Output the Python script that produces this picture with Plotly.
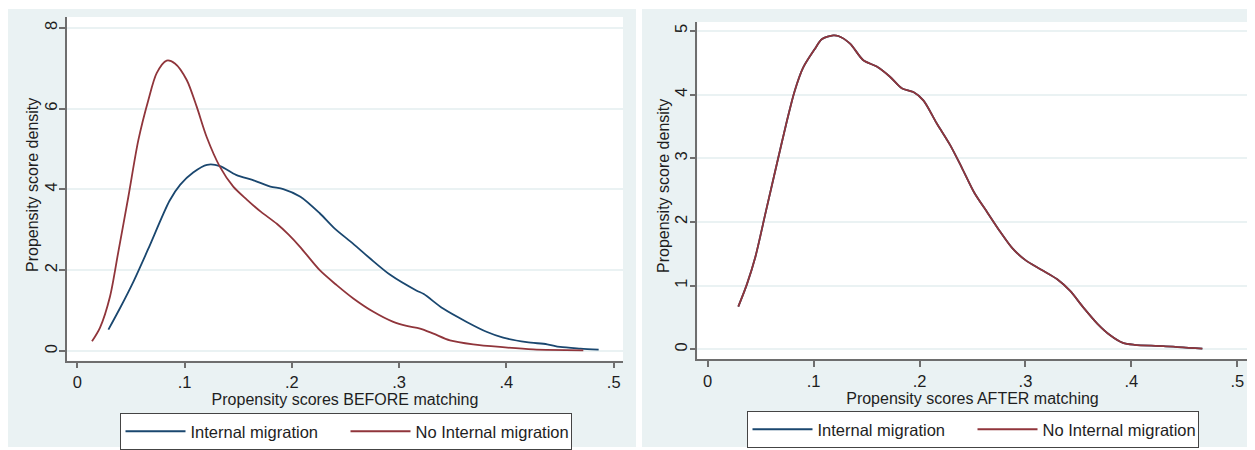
import plotly.graph_objects as go

# ---------------- data ----------------
before_internal_x = [0.029, 0.040, 0.052, 0.066, 0.086, 0.096, 0.108, 0.121, 0.133, 0.148,
                     0.165, 0.180, 0.192, 0.208, 0.226, 0.240, 0.257, 0.273, 0.292, 0.316,
                     0.323, 0.341, 0.363, 0.382, 0.397, 0.419, 0.438, 0.450, 0.469, 0.486]
before_internal_y = [0.53, 1.07, 1.70, 2.52, 3.72, 4.12, 4.42, 4.61, 4.58, 4.36,
                     4.22, 4.07, 4.01, 3.82, 3.41, 3.03, 2.66, 2.29, 1.88, 1.50,
                     1.41, 1.05, 0.72, 0.47, 0.33, 0.22, 0.166, 0.10, 0.06, 0.035]

before_none_x = [0.0137, 0.0212, 0.0305, 0.0382, 0.0476, 0.0569, 0.0662, 0.074, 0.0833, 0.091,
                 0.102, 0.1113, 0.1206, 0.133, 0.1454, 0.158, 0.171, 0.186, 0.197, 0.2076,
                 0.226, 0.2418, 0.2573, 0.276, 0.2946, 0.307, 0.3195, 0.332, 0.3474, 0.369,
                 0.394, 0.425, 0.4717]
before_none_y = [0.24, 0.58, 1.35, 2.45, 3.82, 5.22, 6.21, 6.88, 7.19, 7.12,
                 6.71, 6.05, 5.30, 4.56, 4.07, 3.75, 3.45, 3.15, 2.88, 2.58,
                 2.00, 1.63, 1.30, 0.97, 0.72, 0.62, 0.555, 0.43, 0.265, 0.166,
                 0.10, 0.04, 0.017]

after_x = [0.0289, 0.037, 0.045, 0.055, 0.065, 0.075, 0.082, 0.090, 0.1013, 0.1077,
           0.1186, 0.1233, 0.1344, 0.1469, 0.1596, 0.1721, 0.1832, 0.1942, 0.2036, 0.2162,
           0.2288, 0.240, 0.252, 0.264, 0.276, 0.288, 0.300, 0.315, 0.330, 0.342,
           0.355, 0.368, 0.380, 0.392, 0.403, 0.430, 0.467]
after_y = [0.67, 1.02, 1.45, 2.17, 2.89, 3.60, 4.05, 4.42, 4.72, 4.87,
           4.93, 4.92, 4.80, 4.54, 4.44, 4.28, 4.10, 4.04, 3.91, 3.55,
           3.21, 2.85, 2.45, 2.15, 1.85, 1.58, 1.40, 1.25, 1.10, 0.92,
           0.65, 0.40, 0.22, 0.10, 0.07, 0.05, 0.01]

series_names = ["Internal migration", "No Internal migration"]
x_ticks = [0, 0.1, 0.2, 0.3, 0.4, 0.5]
x_tick_text = ["0", ".1", ".2", ".3", ".4", ".5"]
left_y_ticks = [0, 2, 4, 6, 8]
right_y_ticks = [0, 1, 2, 3, 4, 5]
x_titles = ["Propensity scores BEFORE matching", "Propensity scores AFTER matching"]
y_title = "Propensity score density"

# ---------------- styling ----------------
# the page body adds an 8px margin, so the figure starts at (8, 8) on screen
OX, OY = 8, 8
W, H = 1247, 442
BLUE = "#1a476f"
RED = "#90353b"
REGION = "#eaf2f3"
AXIS = "#6e6e6e"
FONT = "Liberation Sans, Arial, sans-serif"
TXT = "#1e1e1e"

def px(x):
    return (x - OX) / W

def py(y):
    return 1 - (y - OY) / H

fig = go.Figure()

line_kw = dict(mode="lines", line_shape="spline", hoverinfo="skip")
fig.add_trace(go.Scatter(x=before_internal_x, y=before_internal_y, name=series_names[0],
                         line=dict(color=BLUE, width=1.8, smoothing=0.8),
                         xaxis="x", yaxis="y", legend="legend", **line_kw))
fig.add_trace(go.Scatter(x=before_none_x, y=before_none_y, name=series_names[1],
                         line=dict(color=RED, width=1.8, smoothing=0.8),
                         xaxis="x", yaxis="y", legend="legend", **line_kw))
fig.add_trace(go.Scatter(x=after_x, y=after_y, name=series_names[0],
                         line=dict(color=BLUE, width=1.8, smoothing=0.8),
                         xaxis="x2", yaxis="y2", legend="legend2", **line_kw))
fig.add_trace(go.Scatter(x=after_x, y=after_y, name=series_names[1],
                         line=dict(color=RED, width=1.8, smoothing=0.8),
                         xaxis="x2", yaxis="y2", legend="legend2", **line_kw))

# panel regions and white plot regions
shapes = []
for (x0, x1) in [(8, 636), (642, 1251)]:
    shapes.append(dict(type="rect", xref="paper", yref="paper", layer="below",
                       x0=px(x0), x1=px(x1), y0=py(447), y1=py(9),
                       fillcolor=REGION, line=dict(width=0)))
for (x0, x1, y0, y1) in [(67, 623, 17, 360.7), (697.3, 1247.7, 22, 359.3)]:
    shapes.append(dict(type="rect", xref="paper", yref="paper", layer="below",
                       x0=px(x0), x1=px(x1), y0=py(y1), y1=py(y0),
                       fillcolor="white", line=dict(width=0)))

tickfont = dict(family=FONT, size=16.5, color=TXT)
titlefont = dict(family=FONT, size=16, color=TXT)

# y-axis titles as rotated text
annotations = []
for (cx, cy) in [(32, 185), (663, 186)]:
    annotations.append(dict(text=y_title, xref="paper", yref="paper", x=px(cx), y=py(cy),
                            xanchor="center", yanchor="middle", textangle=-90, showarrow=False,
                            font=dict(family=FONT, size=16, color=TXT)))

def xaxis(domain, rng, anchor, title):
    return dict(domain=domain, range=rng, anchor=anchor, tickvals=x_ticks, ticktext=x_tick_text,
                showgrid=False, zeroline=False, showline=True, linecolor=AXIS, linewidth=1.5,
                ticks="outside", ticklen=6, tickwidth=1.5, tickcolor=AXIS, tickfont=tickfont,
                title=dict(text=title, font=titlefont, standoff=0), fixedrange=True)

def yaxis(domain, rng, anchor, ticks):
    return dict(domain=domain, range=rng, anchor=anchor, tickvals=ticks,
                showgrid=True, gridcolor=REGION, gridwidth=1.5, zeroline=False,
                showline=True, linecolor=AXIS, linewidth=1.5,
                ticks="outside", ticklen=6, tickwidth=1.5, tickcolor=AXIS,
                tickangle=-90, tickfont=tickfont, ticklabelstandoff=-4, fixedrange=True)

legend_common = dict(orientation="h", xanchor="center", yanchor="top", bgcolor="white",
                     bordercolor="#444444", borderwidth=1,
                     font=dict(family=FONT, size=16.5, color=TXT),
                     entrywidth=150, itemwidth=60, tracegroupgap=0)

fig.update_layout(
    width=W, height=H, autosize=False,
    margin=dict(l=0, r=0, t=0, b=0),
    paper_bgcolor="white", plot_bgcolor="rgba(0,0,0,0)",
    font=dict(family=FONT, color=TXT),
    xaxis=xaxis([px(67), px(623)], [-0.0096, 0.5087], "y", x_titles[0]),
    yaxis=yaxis([py(360.7), py(17)], [-0.24, 8.27], "x", left_y_ticks),
    xaxis2=xaxis([px(697.3), px(1247.7)], [-0.0098, 0.5098], "y2", x_titles[1]),
    yaxis2=yaxis([py(359.3), py(22)], [-0.157, 5.14], "x2", right_y_ticks),
    legend=dict(x=px(345.5), y=py(413), **legend_common),
    legend2=dict(x=px(972.5), y=py(411), **legend_common),
    shapes=shapes,
    annotations=annotations,
    showlegend=True,
)

fig.write_html("out.html")
